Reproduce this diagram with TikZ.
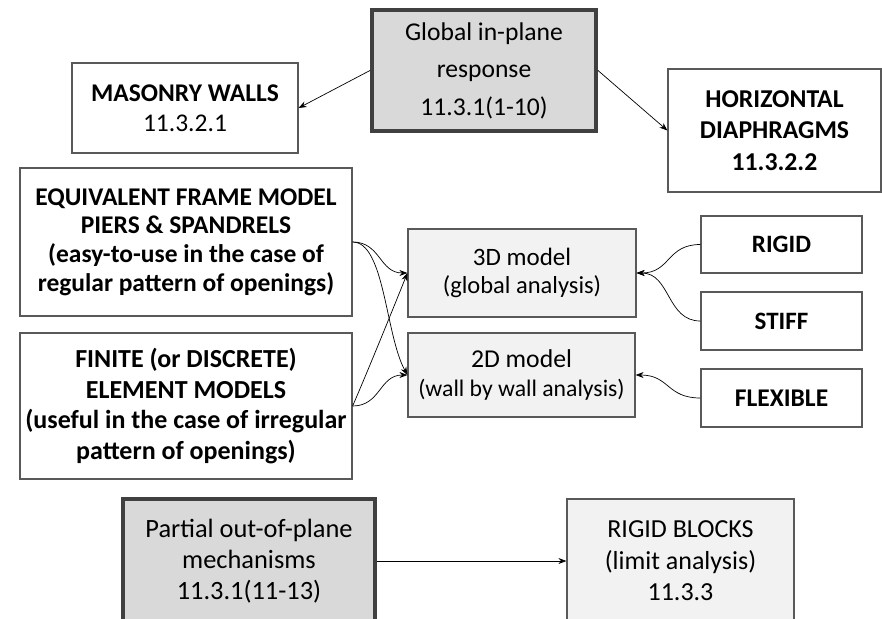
\documentclass[tikz,border=0pt]{standalone}
\usepackage{fontspec}
\setmainfont{Carlito}
\usetikzlibrary{arrows.meta}
\definecolor{boxline}{HTML}{595959}
\definecolor{thickline}{HTML}{404040}
\definecolor{darkfill}{HTML}{D9D9D9}
\definecolor{lightfill}{HTML}{F2F2F2}
\begin{document}
\begin{tikzpicture}[x=1pt,y=-1pt,
  box/.style={draw=boxline, line width=1.2pt, fill=white, align=center, inner sep=0pt, text=black},
  thickbox/.style={box, draw=thickline, line width=4pt, fill=darkfill},
  lightbox/.style={box, fill=lightfill},
  arr/.style={-{Stealth[length=8pt,width=6pt]}, line width=0.7pt, black},
]
\useasboundingbox (0,0) rectangle (882,618);

\node[thickbox, minimum width=224pt, minimum height=121pt, font=\fontsize{25.6}{37.5}\selectfont] (glob) at (484,70.5) {Global in-plane\\response\\11.3.1(1-10)};
\node[box, minimum width=226pt, minimum height=90pt, font=\fontsize{25.5}{30}\selectfont] (mas) at (185,108) {\textbf{MASONRY WALLS}\\11.3.2.1};
\node[box, minimum width=213pt, minimum height=123pt, font=\fontsize{25.7}{31.5}\selectfont\bfseries] (dia) at (774.5,130.5) {HORIZONTAL\\DIAPHRAGMS\\11.3.2.2};

\node[box, minimum width=332pt, minimum height=148pt, font=\fontsize{25.5}{28.7}\selectfont\bfseries] (efm) at (186,242) {EQUIVALENT FRAME MODEL\\PIERS \& SPANDRELS\\(easy-to-use in the case of\\regular pattern of openings)};
\node[box, minimum width=332pt, minimum height=146pt, font=\fontsize{26}{30.7}\selectfont\bfseries] (fin) at (186,406) {FINITE (or DISCRETE)\\ELEMENT MODELS\\(useful in the case of irregular\\pattern of openings)};

\node[lightbox, minimum width=228pt, minimum height=88pt, font=\fontsize{24.5}{28}\selectfont] (m3d) at (522,273) {{\fontsize{25}{28}\selectfont 3D model}\\(global analysis)};
\node[lightbox, minimum width=227pt, minimum height=84pt, font=\fontsize{23.7}{29}\selectfont] (m2d) at (521.5,375) {{\fontsize{25.7}{29}\selectfont 2D model}\\(wall by wall analysis)};

\node[box, minimum width=161pt, minimum height=57pt, font=\fontsize{25}{30}\selectfont\bfseries] (rig) at (781.5,244.5) {RIGID};
\node[box, minimum width=161pt, minimum height=58pt, font=\fontsize{25}{30}\selectfont\bfseries] (sti) at (781.5,321) {STIFF};
\node[box, minimum width=161pt, minimum height=58pt, font=\fontsize{25.5}{30}\selectfont\bfseries] (fle) at (781.5,398) {FLEXIBLE};

\node[thickbox, minimum width=252pt, minimum height=124pt, font=\fontsize{26.4}{31}\selectfont] (par) at (249,561) {Partial out-of-plane\\mechanisms\\11.3.1(11-13)};
\node[lightbox, minimum width=227pt, minimum height=124pt, font=\fontsize{26}{31.5}\selectfont] (blk) at (680.5,561) {RIGID BLOCKS\\(limit analysis)\\11.3.3};

\draw[arr] (glob.west) -- (mas.east);
\draw[arr] (glob.east) -- (dia.west);

\draw[arr] (efm.east) .. controls +(28,0) and +(-28,0) .. (m3d.west);
\draw[arr] (efm.east) .. controls +(32,0) and +(-22,-40) .. (m2d.west);
\draw[arr] (fin.east) .. controls +(14,-32) and +(-12,30) .. (m3d.west);
\draw[arr] (fin.east) .. controls +(28,0) and +(-28,0) .. (m2d.west);

\draw[arr] (rig.west) .. controls +(-34,0) and +(34,0) .. (m3d.east);
\draw[arr] (sti.west) .. controls +(-34,0) and +(34,0) .. (m3d.east);
\draw[arr] (fle.west) .. controls +(-34,0) and +(34,0) .. (m2d.east);

\draw[arr] (par.east) -- (par.east -| blk.west);
\end{tikzpicture}
\end{document}
